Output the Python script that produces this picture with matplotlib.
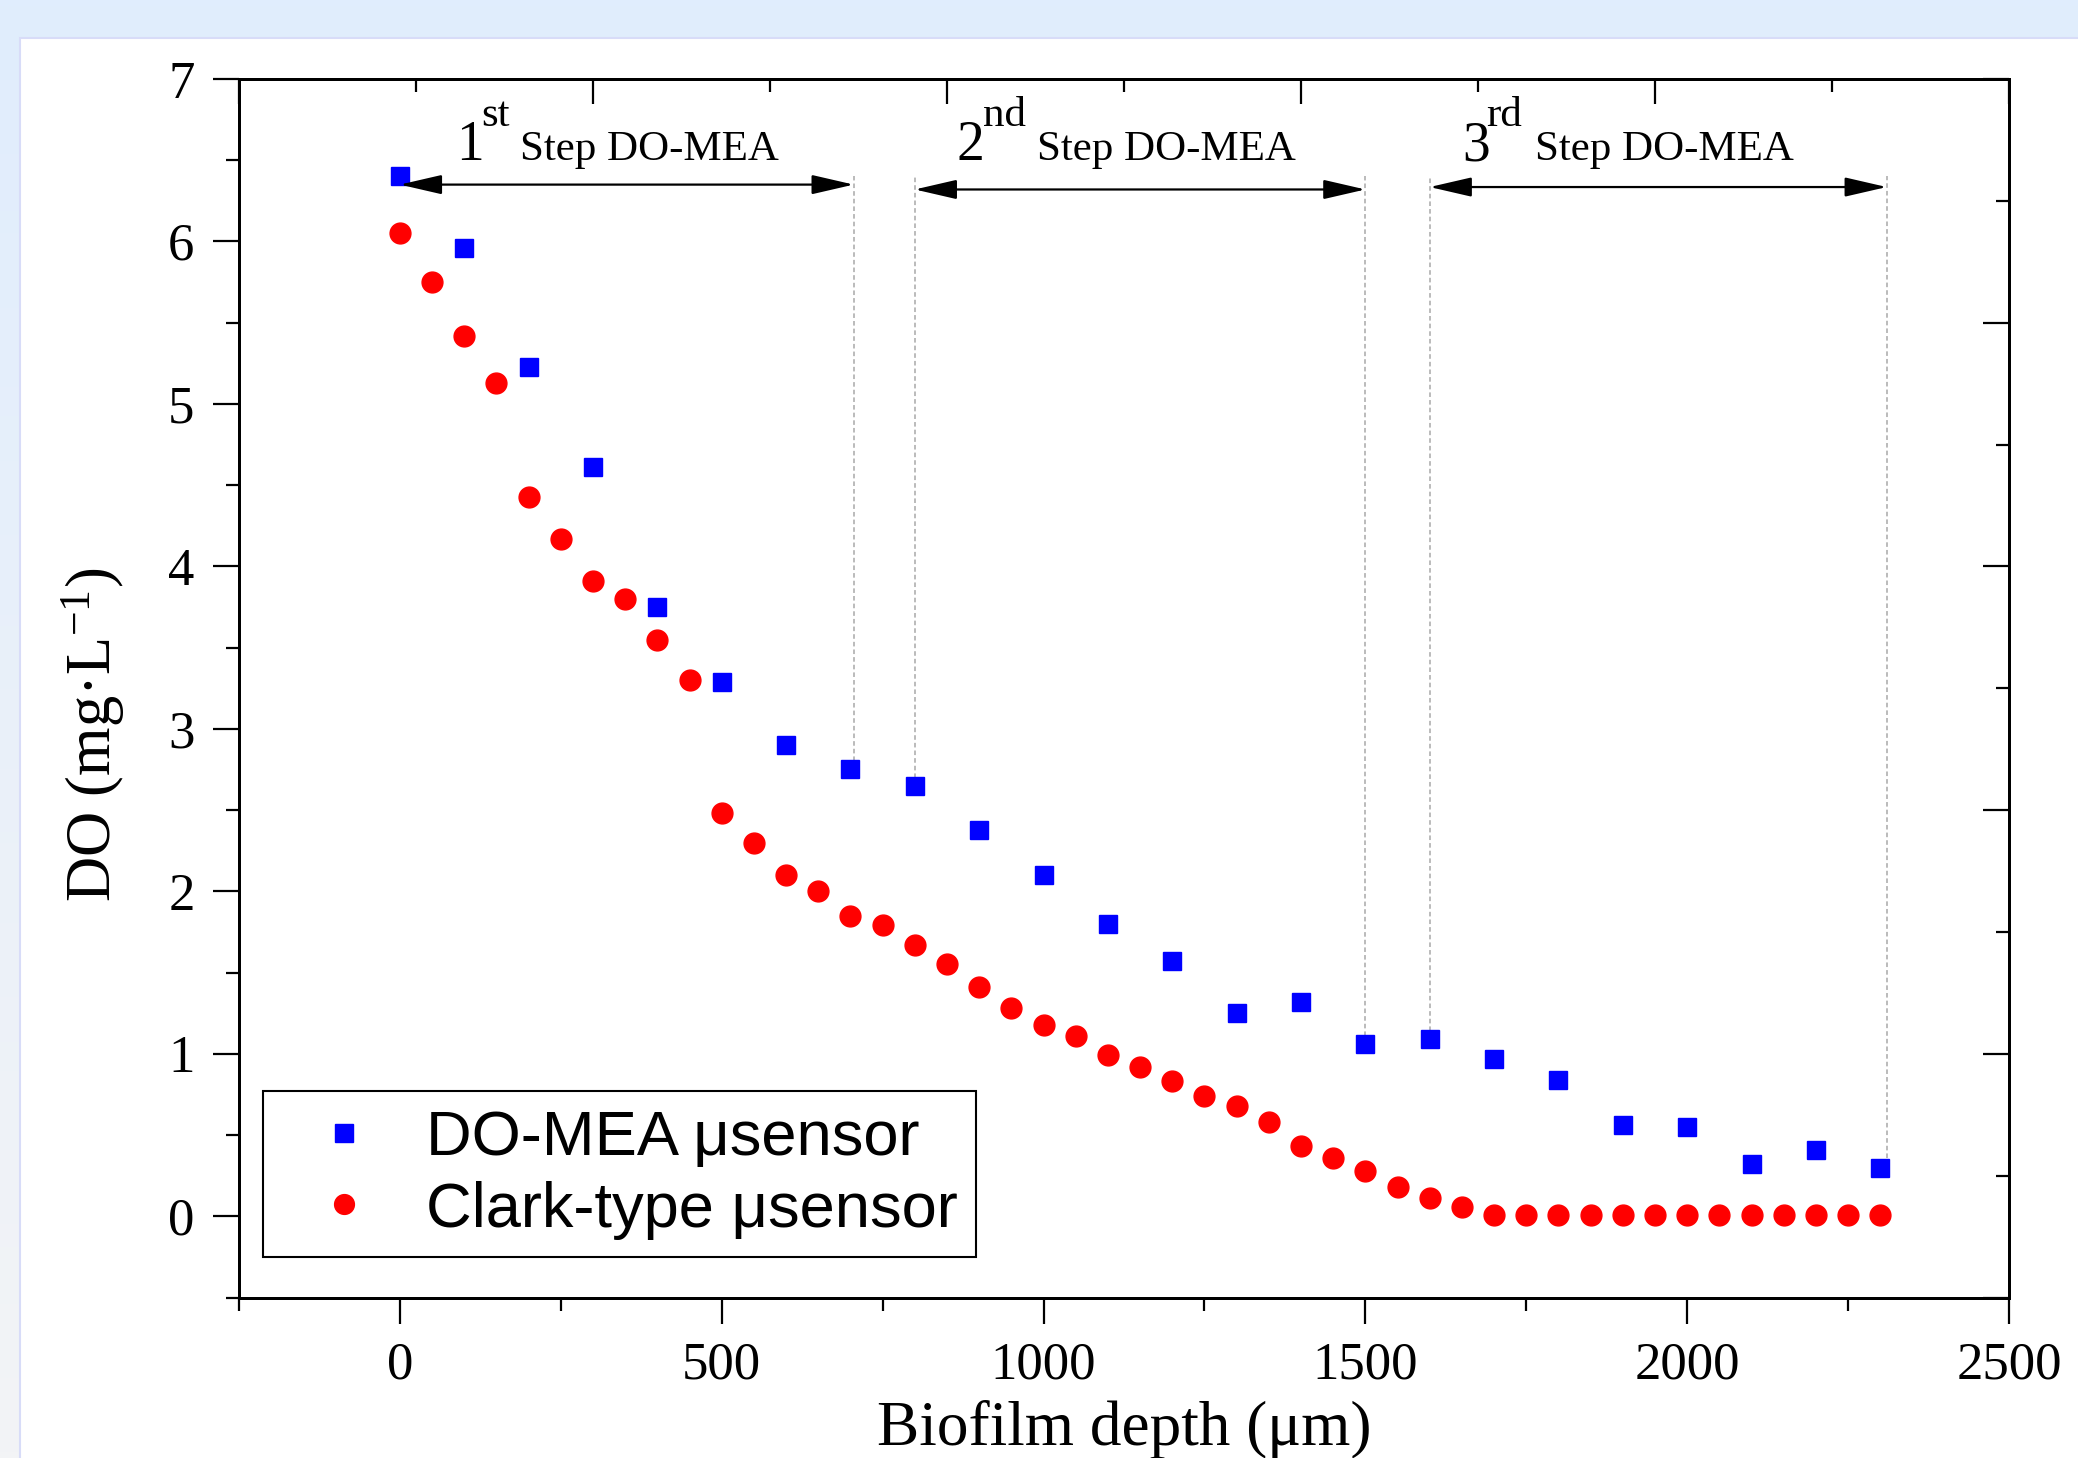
import numpy as np
import matplotlib
matplotlib.use('Agg')
from matplotlib import pyplot as plt
from matplotlib.patches import Rectangle
from matplotlib.ticker import FixedLocator, NullFormatter

plt.rcParams['font.family'] = ['Liberation Serif', 'DejaVu Serif']
plt.rcParams['mathtext.fontset'] = 'custom'
plt.rcParams['mathtext.rm'] = 'Liberation Serif'
plt.rcParams['mathtext.default'] = 'regular'

# DO-MEA microsensor (blue squares)
depth_mea = [0, 100, 200, 300, 400, 500, 600, 700, 800, 900, 1000, 1100,
             1200, 1300, 1400, 1500, 1600, 1700, 1800, 1900, 2000, 2100, 2200, 2300]
do_mea = [6.40, 5.96, 5.23, 4.61, 3.75, 3.29, 2.90, 2.75, 2.65, 2.38, 2.10, 1.80,
          1.57, 1.25, 1.32, 1.06, 1.09, 0.97, 0.84, 0.56, 0.55, 0.32, 0.41, 0.30]

# Clark-type microsensor (red circles)
depth_clark = [0, 50, 100, 150, 200, 250, 300, 350, 400, 450, 500, 550, 600, 650,
               700, 750, 800, 850, 900, 950, 1000, 1050, 1100, 1150, 1200, 1250,
               1300, 1350, 1400, 1450, 1500, 1550, 1600, 1650, 1700, 1750, 1800,
               1850, 1900, 1950, 2000, 2050, 2100, 2150, 2200, 2250, 2300]
do_clark = [6.05, 5.75, 5.42, 5.13, 4.43, 4.17, 3.91, 3.80, 3.55, 3.30, 2.48, 2.30,
            2.10, 2.00, 1.85, 1.79, 1.67, 1.55, 1.41, 1.28, 1.18, 1.11, 0.99, 0.92,
            0.83, 0.74, 0.68, 0.58, 0.43, 0.36, 0.28, 0.18, 0.11, 0.06, 0.01, 0.01,
            0.01, 0.01, 0.01, 0.01, 0.01, 0.01, 0.01, 0.01, 0.01, 0.01, 0.01]

# step annotations
step_start = [0, 800, 1600]
step_end = [705, 1500, 2310]
step_y = [6.35, 6.32, 6.335]
step_num = ['1', '2', '3']
step_sup = ['st', 'nd', 'rd']
num_x = [88, 865, 1650]
sup_x = [127, 906, 1687]
word_x = [187, 990, 1763]
guide_x = [705, 800, 1500, 1600, 2310]
guide_bottom = [2.80, 2.70, 1.11, 1.14, 0.36]

fig = plt.figure(figsize=(20.78, 14.58), dpi=100)

# page background (light blue fading to grey) and white panel
bg = fig.add_axes([0, 0, 1, 1], zorder=-10)
top_c = np.array([0xe0, 0xed, 0xfd]) / 255
bot_c = np.array([0xf3, 0xf4, 0xf6]) / 255
t = np.linspace(0, 1, 256)[:, None]
grad = (top_c[None, :] * (1 - t) + bot_c[None, :] * t)[:, None, :]
bg.imshow(grad, aspect='auto', extent=[0, 1, 0, 1])
bg.axis('off')
fig.add_artist(Rectangle((20 / 2078, -0.01), 1.0, (1458 - 38) / 1458 + 0.01,
                         transform=fig.transFigure, facecolor='white',
                         edgecolor='#d8dcf8', lw=1.5, zorder=-5))

ax = fig.add_axes([239 / 2078, 1 - 1297.5 / 1458, 1770 / 2078, 1218.5 / 1458])
ax.set_xlim(-250, 2500)
ax.set_ylim(-0.5, 7)

ax.plot(depth_mea, do_mea, 's', color='#0000ff', markersize=13, mec='#0000ff',
        label='DO-MEA \u03bcsensor', zorder=3)
ax.plot(depth_clark, do_clark, 'o', color='#ff0000', markersize=15, mec='#ff0000',
        label='Clark-type \u03bcsensor', zorder=3)

# grey guide lines
for gx, gb in zip(guide_x, guide_bottom):
    ax.plot([gx, gx], [gb, 6.40], color='#a8a8a8', lw=1.1, ls=(0, (3, 2)), zorder=2)

for i in range(3):
    ax.annotate('', xy=(step_end[i], step_y[i]), xytext=(step_start[i], step_y[i]),
                arrowprops=dict(arrowstyle='<|-|>,head_length=1.3,head_width=0.3',
                                mutation_scale=20, color='black', lw=1.6,
                                shrinkA=0, shrinkB=0), zorder=4)
    ax.text(num_x[i], 6.50, step_num[i], fontsize=40, ha='left', va='baseline')
    ax.text(sup_x[i], 6.71, step_sup[i], fontsize=31, ha='left', va='baseline')
    ax.text(word_x[i], 6.50, 'Step DO-MEA', fontsize=31, ha='left', va='baseline')

# ticks
for s in ax.spines.values():
    s.set_linewidth(2)
ax.xaxis.set_major_locator(FixedLocator([0, 500, 1000, 1500, 2000, 2500]))
ax.xaxis.set_minor_locator(FixedLocator([-250, 250, 750, 1250, 1750, 2250]))
ax.yaxis.set_major_locator(FixedLocator([0, 1, 2, 3, 4, 5, 6, 7]))
ax.yaxis.set_minor_locator(FixedLocator([-0.5, 0.5, 1.5, 2.5, 3.5, 4.5, 5.5, 6.5]))
ax.tick_params(which='major', direction='out', length=19, width=1.6, labelsize=38, pad=13)
ax.tick_params(which='minor', direction='out', length=9.5, width=1.6)
ax.tick_params(top=False, right=False)

ax_r = ax.twinx()
ax_r.set_ylim(-0.5, 7)
ax_r.yaxis.set_major_locator(FixedLocator([-0.5, 1.0, 2.5, 4.0, 5.5, 7.0]))
ax_r.yaxis.set_minor_locator(FixedLocator([0.25, 1.75, 3.25, 4.75, 6.25]))
ax_r.yaxis.set_major_formatter(NullFormatter())
ax_r.tick_params(which='major', direction='in', length=19, width=1.6)
ax_r.tick_params(which='minor', direction='in', length=9.5, width=1.6)
for s in ax_r.spines.values():
    s.set_linewidth(2)

ax_t = ax.twiny()
ax_t.set_xlim(-250, 2500)
ax_t.xaxis.set_major_locator(FixedLocator([-250, 300, 850, 1400, 1950, 2500]))
ax_t.xaxis.set_minor_locator(FixedLocator([25, 575, 1125, 1675, 2225]))
ax_t.xaxis.set_major_formatter(NullFormatter())
ax_t.tick_params(which='major', direction='in', length=18, width=1.6)
ax_t.tick_params(which='minor', direction='in', length=9.5, width=1.6)
for s in ax_t.spines.values():
    s.set_linewidth(2)

ax.set_xlabel('Biofilm depth (\u03bcm)', fontsize=45.5)
ax.xaxis.set_label_coords(0.5, -0.084)
ax.set_ylabel('DO (mg\u00b7L$^{-1}$)', fontsize=45)
ax.yaxis.label.set(va='center', ha='center')
ax.yaxis.set_label_coords(-0.0825, 0.4616)

leg = ax.legend(loc='lower left', bbox_to_anchor=(0.0136, 0.033), frameon=True,
                fancybox=False, edgecolor='black', framealpha=1,
                prop={'family': ['Liberation Sans', 'DejaVu Sans'], 'size': 45.5},
                borderaxespad=0, borderpad=0.28, handlelength=2.0, handletextpad=0.3,
                labelspacing=0.2, markerscale=0.95)
leg.get_frame().set_linewidth(1.5)
leg.set_zorder(5)

fig.savefig('out.png', dpi=100)
